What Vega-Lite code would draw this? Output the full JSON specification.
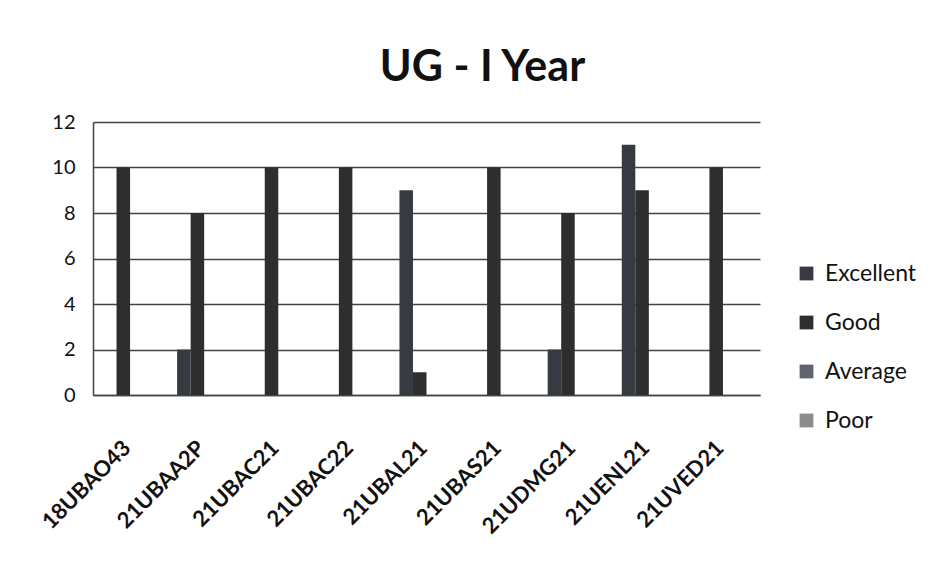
{
  "$schema": "https://vega.github.io/schema/vega-lite/v6.json",
  "autosize": "none",
  "width": 667,
  "height": 273,
  "padding": {"left": 93, "top": 122, "right": 182, "bottom": 187},
  "background": "white",
  "title": {
    "text": "UG - I Year",
    "font": "Lato",
    "fontSize": 43,
    "fontWeight": "bold",
    "color": "#111111",
    "anchor": "middle",
    "frame": "group",
    "dx": 56,
    "offset": 22
  },
  "data": {
    "values": [
      {"course": "18UBAO43", "rating": "Excellent", "count": 0},
      {"course": "18UBAO43", "rating": "Good", "count": 10},
      {"course": "18UBAO43", "rating": "Average", "count": 0},
      {"course": "18UBAO43", "rating": "Poor", "count": 0},
      {"course": "21UBAA2P", "rating": "Excellent", "count": 2},
      {"course": "21UBAA2P", "rating": "Good", "count": 8},
      {"course": "21UBAA2P", "rating": "Average", "count": 0},
      {"course": "21UBAA2P", "rating": "Poor", "count": 0},
      {"course": "21UBAC21", "rating": "Excellent", "count": 0},
      {"course": "21UBAC21", "rating": "Good", "count": 10},
      {"course": "21UBAC21", "rating": "Average", "count": 0},
      {"course": "21UBAC21", "rating": "Poor", "count": 0},
      {"course": "21UBAC22", "rating": "Excellent", "count": 0},
      {"course": "21UBAC22", "rating": "Good", "count": 10},
      {"course": "21UBAC22", "rating": "Average", "count": 0},
      {"course": "21UBAC22", "rating": "Poor", "count": 0},
      {"course": "21UBAL21", "rating": "Excellent", "count": 9},
      {"course": "21UBAL21", "rating": "Good", "count": 1},
      {"course": "21UBAL21", "rating": "Average", "count": 0},
      {"course": "21UBAL21", "rating": "Poor", "count": 0},
      {"course": "21UBAS21", "rating": "Excellent", "count": 0},
      {"course": "21UBAS21", "rating": "Good", "count": 10},
      {"course": "21UBAS21", "rating": "Average", "count": 0},
      {"course": "21UBAS21", "rating": "Poor", "count": 0},
      {"course": "21UDMG21", "rating": "Excellent", "count": 2},
      {"course": "21UDMG21", "rating": "Good", "count": 8},
      {"course": "21UDMG21", "rating": "Average", "count": 0},
      {"course": "21UDMG21", "rating": "Poor", "count": 0},
      {"course": "21UENL21", "rating": "Excellent", "count": 11},
      {"course": "21UENL21", "rating": "Good", "count": 9},
      {"course": "21UENL21", "rating": "Average", "count": 0},
      {"course": "21UENL21", "rating": "Poor", "count": 0},
      {"course": "21UVED21", "rating": "Excellent", "count": 0},
      {"course": "21UVED21", "rating": "Good", "count": 10},
      {"course": "21UVED21", "rating": "Average", "count": 0},
      {"course": "21UVED21", "rating": "Poor", "count": 0}
    ]
  },
  "mark": {"type": "bar"},
  "encoding": {
    "x": {
      "field": "course",
      "type": "nominal",
      "sort": null,
      "scale": {"paddingInner": 0.27, "paddingOuter": 0.135},
      "axis": {
        "title": null,
        "labelAngle": -45,
        "labelFont": "Lato",
        "labelFontSize": 22,
        "labelFontWeight": "bold",
        "labelColor": "#111111",
        "labelPadding": 42,
        "labelOffset": -10,
        "ticks": false,
        "domainColor": "#444",
        "domainWidth": 1.5
      }
    },
    "xOffset": {
      "field": "rating",
      "type": "nominal",
      "sort": ["Excellent", "Good", "Average", "Poor"],
      "scale": {"paddingInner": 0, "paddingOuter": 0}
    },
    "y": {
      "field": "count",
      "type": "quantitative",
      "scale": {"domain": [0, 12], "nice": false},
      "axis": {
        "title": null,
        "values": [0, 2, 4, 6, 8, 10, 12],
        "labelFont": "Lato",
        "labelFontSize": 20,
        "labelColor": "#111111",
        "labelPadding": 18,
        "ticks": false,
        "grid": true,
        "gridColor": "#444",
        "gridWidth": 1.5,
        "domain": true,
        "domainColor": "#444",
        "domainWidth": 1.5
      }
    },
    "color": {
      "field": "rating",
      "type": "nominal",
      "sort": ["Excellent", "Good", "Average", "Poor"],
      "scale": {
        "domain": ["Excellent", "Good", "Average", "Poor"],
        "range": ["#383a42", "#2e2e2e", "#5f6370", "#8c8c8c"]
      },
      "legend": {
        "title": null,
        "orient": "none",
        "legendX": 702,
        "legendY": 140,
        "symbolType": "square",
        "symbolSize": 190,
        "labelFont": "Lato",
        "labelFontSize": 23,
        "labelColor": "#111111",
        "rowPadding": 25,
        "labelOffset": 7
      }
    }
  },
  "config": {"view": {"stroke": null}}
}
